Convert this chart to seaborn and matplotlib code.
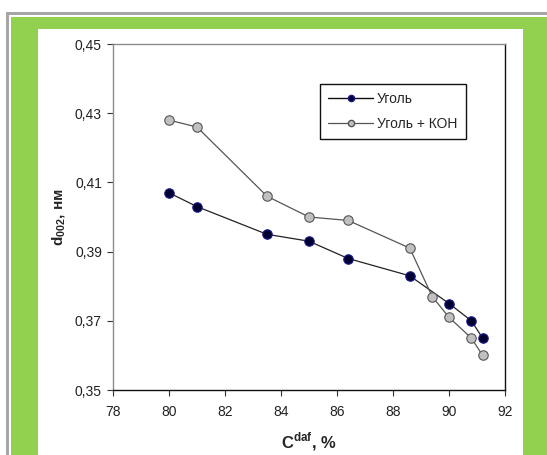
import matplotlib
matplotlib.use("Agg")
import matplotlib.pyplot as plt
import seaborn as sns
import pandas as pd
from matplotlib.patches import Rectangle
from matplotlib.ticker import FuncFormatter, FixedLocator
from matplotlib.lines import Line2D

sns.set_style("white")
plt.rcParams['font.family'] = ['Liberation Sans', 'DejaVu Sans']

# Data
x_coal = [80.0, 81.0, 83.5, 85.0, 86.4, 88.6, 90.0, 90.8, 91.2]
y_coal = [0.407, 0.403, 0.395, 0.393, 0.388, 0.383, 0.375, 0.370, 0.365]
x_koh = [80.0, 81.0, 83.5, 85.0, 86.4, 88.6, 89.4, 90.0, 90.8, 91.2]
y_koh = [0.428, 0.426, 0.406, 0.400, 0.399, 0.391, 0.377, 0.371, 0.365, 0.360]
series_names = ["Уголь", "Уголь + КОН"]
x_ticks = [78, 80, 82, 84, 86, 88, 90, 92]
y_ticks = [0.35, 0.37, 0.39, 0.41, 0.43, 0.45]

df_coal = pd.DataFrame({"x": x_coal, "y": y_coal})
df_koh = pd.DataFrame({"x": x_koh, "y": y_koh})

W, H = 547, 455
fig = plt.figure(figsize=(W / 100, H / 100), dpi=100, facecolor="white")

def frect(x0, y0, x1, y1, color):
    fig.patches.append(Rectangle((x0 / W, 1 - y1 / H), (x1 - x0) / W, (y1 - y0) / H,
                                 transform=fig.transFigure, facecolor=color,
                                 edgecolor="none", zorder=-10))

frect(6, 12, W, H, "#a6a6a6")
frect(9, 15, W, H, "white")
frect(11, 17, W, H, "#92d050")
frect(38, 29, 523, H, "white")

ax = fig.add_axes([113 / W, 1 - 390 / H, 392 / W, 346 / H])
ax.set_facecolor("white")

sns.lineplot(data=df_coal, x="x", y="y", ax=ax, sort=False, color="#222222", lw=0.9,
             marker="o", markersize=6.8, markerfacecolor="#000030",
             markeredgecolor="#1a1a8c", markeredgewidth=0.8, zorder=3)
sns.lineplot(data=df_koh, x="x", y="y", ax=ax, sort=False, color="#555555", lw=0.9,
             marker="o", markersize=6.8, markerfacecolor="#c0c0c0",
             markeredgecolor="#555555", markeredgewidth=0.8, zorder=4)

ax.set_xlim(78, 92)
ax.set_ylim(0.35, 0.45)
ax.xaxis.set_major_locator(FixedLocator(x_ticks))
ax.yaxis.set_major_locator(FixedLocator(y_ticks))
ax.yaxis.set_major_formatter(FuncFormatter(lambda v, p: f"{v:.2f}".replace(".", ",")))
ax.xaxis.set_major_formatter(FuncFormatter(lambda v, p: f"{int(round(v))}"))
ax.tick_params(axis="both", direction="out", length=4, width=0.8, color="#333333",
               labelsize=10, labelcolor="#222222", pad=4)
ax.tick_params(axis="x", pad=7)
ax.tick_params(left=True, bottom=True, right=False, top=False)

for s in ["left", "top"]:
    ax.spines[s].set_color("#8c8c8c")
    ax.spines[s].set_linewidth(1.0)
for s in ["right", "bottom"]:
    ax.spines[s].set_color("#111111")
    ax.spines[s].set_linewidth(1.0)

ax.set_xlabel("C$^{\\mathregular{daf}}$, %", fontsize=12, fontweight="bold", labelpad=8)
ax.set_ylabel("d$_{\\mathregular{002}}$, нм", fontsize=11, fontweight="bold", labelpad=5)

h1 = Line2D([], [], color="#111111", lw=1.0, marker="o", markersize=4.5,
            markerfacecolor="#000030", markeredgecolor="#1a1a8c")
h2 = Line2D([], [], color="#555555", lw=0.9, marker="o", markersize=4.5,
            markerfacecolor="#c0c0c0", markeredgecolor="#555555")
leg = ax.legend([h1, h2], series_names, loc="upper left",
                bbox_to_anchor=((320 - 113) / 392, (390 - 84) / 346),
                frameon=True, fancybox=False, framealpha=1, edgecolor="#111111",
                fontsize=10, handlelength=3.2, borderpad=0.6, labelspacing=0.75,
                handletextpad=0.3, borderaxespad=0)
leg.get_frame().set_linewidth(1.0)

fig.savefig("out.png", dpi=100, facecolor="white")
